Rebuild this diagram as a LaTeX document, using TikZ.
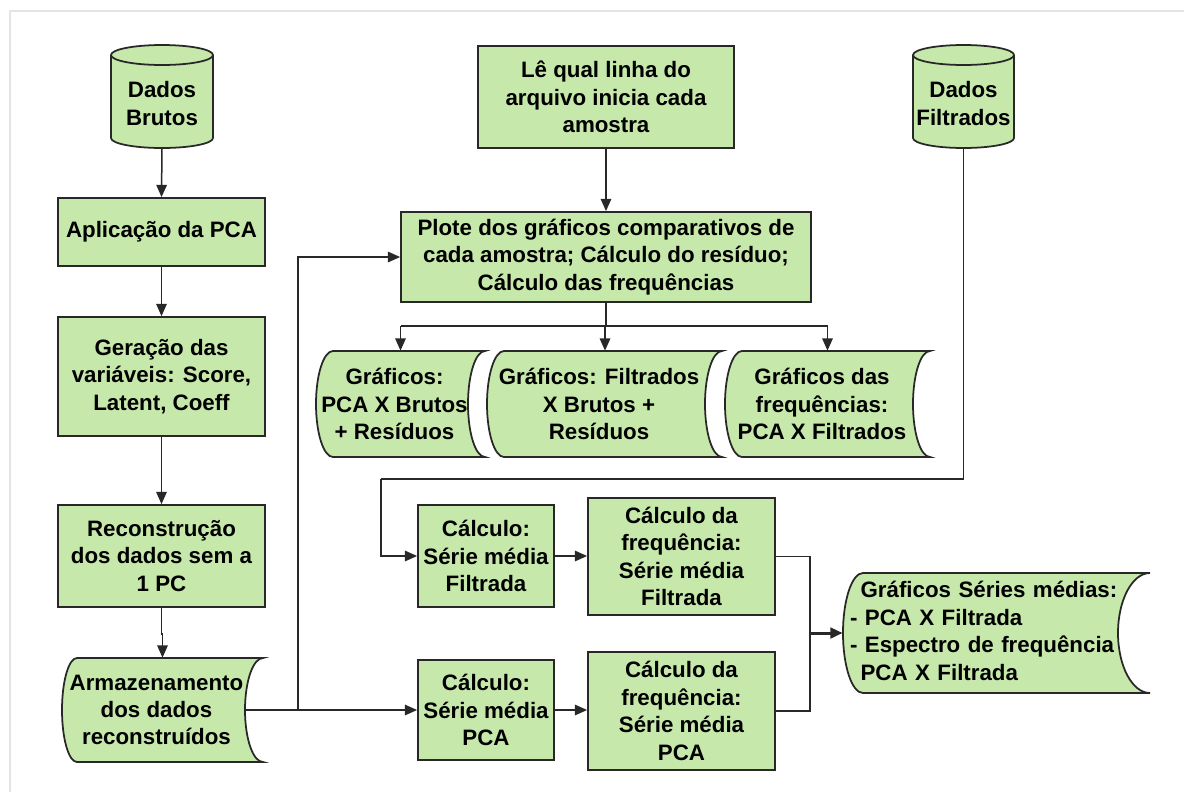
\documentclass[tikz,border=0pt]{standalone}
\usepackage{fontspec}
\setmainfont{Liberation Sans}
\usetikzlibrary{arrows.meta}
\definecolor{boxfill}{RGB}{198,232,170}
\definecolor{edge}{RGB}{40,40,40}
\definecolor{framecol}{RGB}{228,228,228}

\newcommand\cylshape[5]{% x1 y1 x2 y2 ry
\pgfmathsetmacro\cyxm{(#1+#3)/2}
\pgfmathsetmacro\cyrx{(#3-#1)/2*0.5523}
\pgfmathsetmacro\cyry{#5*0.5523}
\draw[outline] (#1,#2+#5) -- (#1,#4-#5) .. controls (#1,#4-#5+\cyry) and (\cyxm-\cyrx,#4) .. (\cyxm,#4) .. controls (\cyxm+\cyrx,#4) and (#3,#4-#5+\cyry) .. (#3,#4-#5) -- (#3,#2+#5) .. controls (#3,#2+#5-\cyry) and (\cyxm+\cyrx,#2) .. (\cyxm,#2) .. controls (\cyxm-\cyrx,#2) and (#1,#2+#5-\cyry) .. (#1,#2+#5) -- cycle;
\draw[outline,fill=none] (#1,#2+#5) .. controls (#1,#2+#5+\cyry) and (\cyxm-\cyrx,#2+2*#5) .. (\cyxm,#2+2*#5) .. controls (\cyxm+\cyrx,#2+2*#5) and (#3,#2+#5+\cyry) .. (#3,#2+#5);
}

\newcommand\storeshape[6]{% x1 y1 x2 y2 bl br
\pgfmathsetmacro\stym{(#2+#4)/2}
\pgfmathsetmacro\sthh{(#4-#2)/2*0.5523}
\pgfmathsetmacro\stbl{#5*0.5523}
\pgfmathsetmacro\stbr{#6*0.5523}
\draw[outline] (#1+#5,#2) -- (#3,#2) .. controls (#3-\stbr,#2) and (#3-#6,\stym-\sthh) .. (#3-#6,\stym) .. controls (#3-#6,\stym+\sthh) and (#3-\stbr,#4) .. (#3,#4) -- (#1+#5,#4) .. controls (#1+#5-\stbl,#4) and (#1,\stym+\sthh) .. (#1,\stym) .. controls (#1,\stym-\sthh) and (#1+#5-\stbl,#2) .. (#1+#5,#2) -- cycle;
}

\begin{document}
\begin{tikzpicture}[x=0.02cm,y=-0.02cm,
  outline/.style={draw=edge, fill=boxfill, line width=1pt},
  txt/.style={align=center, inner sep=0pt, font=\fontsize{12.7}{15.6}\selectfont\bfseries},
  box/.style={txt, draw=edge, fill=boxfill, line width=1pt},
  conn/.style={draw=edge, line width=0.85pt},
  arr/.style={conn, -{Triangle[length=7pt,width=6pt]}}]
\useasboundingbox (0,0) rectangle (1184,792);
\draw[framecol, line width=0.6pt] (10,792) -- (10,11) -- (1184,11);

% cylinders
\cylshape{111}{45}{213}{148}{10}
\node[txt, minimum width=2.04cm, minimum height=1.78cm] (DB) at (162,103.5) {Dados\\Brutos};
\cylshape{913}{45}{1014}{148}{10}
\node[txt, minimum width=2.02cm, minimum height=1.78cm] (DF) at (963.5,103.5) {Dados\\Filtrados};

% left column
\node[box, minimum width=4.14cm, minimum height=1.36cm] (PCA) at (161.5,232) {Aplicação da PCA};
\node[box, minimum width=4.14cm, minimum height=2.38cm] (Ger) at (161.5,376.5) {Geração das\\variáveis: Score,\\Latent, Coeff};
\node[box, minimum width=4.14cm, minimum height=2.04cm] (Rec) at (161.5,556) {Reconstrução\\dos dados sem a\\1 PC};
\storeshape{62}{658}{263}{762}{15}{18}
\node[txt, minimum width=4.02cm, minimum height=2.08cm] (Arm) at (156.5,710) {Armazenamento\\dos dados\\reconstruídos};

% top middle
\node[box, minimum width=5.12cm, minimum height=2.04cm] (Le) at (606,97) {Lê qual linha do\\arquivo inicia cada\\amostra};
\node[box, minimum width=8.2cm, minimum height=1.8cm] (Plote) at (606,257) {Plote dos gráficos comparativos de\\cada amostra; Cálculo do resíduo;\\Cálculo das frequências};

% three graphic outputs
\storeshape{316}{351}{485}{457}{17}{17}
\node[txt, minimum width=3.38cm, minimum height=2.12cm] (T1) at (394.5,404) {Gráficos:\\PCA X Brutos\\+ Resíduos};
\storeshape{487}{351}{722}{457}{17}{17}
\node[txt, minimum width=4.7cm, minimum height=2.12cm] (T2) at (599,404) {Gráficos: Filtrados\\X Brutos +\\Resíduos};
\storeshape{725}{351}{930}{457}{17}{17}
\node[txt, minimum width=4.1cm, minimum height=2.12cm] (T3) at (822,404) {Gráficos das\\frequências:\\PCA X Filtrados};

% mean series
\node[box, minimum width=2.72cm, minimum height=2.04cm] (CF) at (486,556) {Cálculo:\\Série média\\Filtrada};
\node[box, minimum width=3.74cm, minimum height=2.34cm] (FF) at (681.5,556.5) {Cálculo da\\frequência:\\Série média\\Filtrada};
\node[box, minimum width=2.72cm, minimum height=2.0cm] (CP) at (486,710) {Cálculo:\\Série média\\PCA};
\node[box, minimum width=3.74cm, minimum height=2.36cm] (FP) at (681.5,711) {Cálculo da\\frequência:\\Série média\\PCA};

\storeshape{843}{573}{1150}{693}{20}{32}
\node[txt, align=left, text width=5.86cm, minimum width=6.14cm, minimum height=2.4cm] (SM) at (996.5,631) {\hspace*{6pt}Gráficos Séries médias:\\- PCA X Filtrada\\- Espectro de frequência\\\hspace*{6pt}PCA X Filtrada};

% coordinates
\coordinate (split) at (298,710);
\coordinate (bus) at (605,326);
\coordinate (dfturn) at (381,479);
\coordinate (merge) at (810,633);

% connectors
\draw[arr] (DB.south) -- (PCA.north);
\draw[arr] (PCA.south) -- (Ger.north);
\draw[arr] (Ger.south) -- (Rec.north);
\draw[arr] (Rec.south) -- ++(0,26) -| ([xshift=0.12cm]Arm.north);
\draw[arr] ([xshift=-0.24cm]Arm.east) -- (CP.west);
\draw[arr] (split) |- (Plote.west);
\draw[arr] (Le.south) -- (Plote.north);
\draw[conn] (Plote.south) -- (Plote.south |- bus);
\draw[conn] ([xshift=0.12cm]T1.north |- bus) -- ([xshift=0.11cm]T3.north |- bus);
\draw[arr] ([xshift=0.12cm]T1.north |- bus) -- ([xshift=0.12cm]T1.north);
\draw[arr] ([xshift=0.12cm]T2.north |- bus) -- ([xshift=0.12cm]T2.north);
\draw[arr] ([xshift=0.11cm]T3.north |- bus) -- ([xshift=0.11cm]T3.north);
\draw[conn] (DF.south) |- (dfturn);
\draw[arr] (dfturn) |- (CF.west);
\draw[arr] (CF.east) -- (CF.east -| FF.west);
\draw[arr] (CP.east) -- (CP.east -| FP.west);
\draw[conn] (FF.east) -| (merge);
\draw[conn] (FP.east) -| (merge);
\draw[arr, line width=1.7pt] (merge) -- (merge -| SM.west);
\end{tikzpicture}
\end{document}
